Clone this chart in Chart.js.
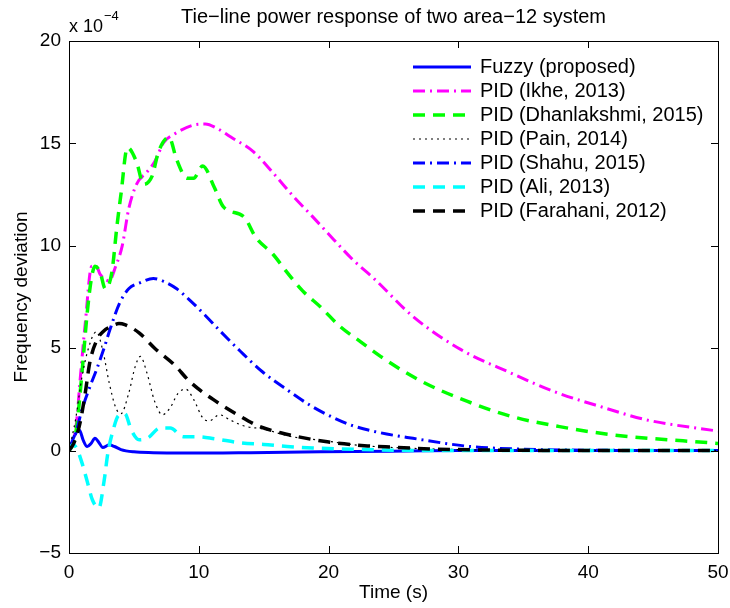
<!DOCTYPE html>
<html lang="en">
<head>
  <meta charset="UTF-8" />
  <title>Tie-line power response</title>
  <script src="https://cdn.jsdelivr.net/npm/chart.js"></script>
  <style>
    body { margin: 0; background: #fff; }
    #wrap { width: 730px; height: 608px; }
  </style>
</head>
<body>
  <div id="wrap"><canvas id="tieChart"></canvas></div>

  <script>
    // values are in units of 1e-4
    const fuzzyT = [0, 0.4, 0.8, 1.1, 1.4, 1.7, 2.0, 2.3, 2.6, 3.1, 3.5, 4.0, 5.0, 6.5, 8.5, 11, 14, 18, 22, 26, 30, 40, 50];
    const fuzzyY = [0, 0.7, 1.0, 0.5, 0.2, 0.35, 0.6, 0.4, 0.15, 0.28, 0.2, 0.05, -0.06, -0.1, -0.12, -0.12, -0.1, -0.07, -0.04, -0.02, 0, 0, 0];

    const ikheT = [0, 0.3, 0.6, 0.85, 1.25, 1.75, 2.1, 2.4, 3.1, 3.6, 4.1, 4.6, 5.2, 6.0, 6.6, 7.3, 8.1, 9.6, 10.5, 11.5, 12.5, 14.2, 15.8, 17.3, 18.8, 20.4, 21.9, 23.5, 26.5, 30.2, 34, 37.6, 41.2, 44.5, 50];
    const ikheY = [0, 0.3, 1.5, 3.4, 6.2, 9.0, 9.0, 8.6, 8.3, 9.0, 10.0, 11.8, 13.0, 13.6, 14.1, 15.05, 15.45, 15.9, 15.95, 15.7, 15.3, 14.6, 13.5, 12.4, 11.4, 10.3, 9.3, 8.4, 6.55, 4.93, 3.8, 2.83, 2.1, 1.5, 0.95];

    const dhanT = [0, 0.3, 0.6, 1.0, 1.4, 1.7, 2.0, 2.4, 2.8, 3.3, 3.7, 4.0, 4.5, 5.2, 5.75, 6.4, 6.9, 7.7, 8.3, 9.1, 9.6, 10.3, 11.2, 11.9, 13.5, 14.4, 15.7, 16.8, 18, 19.4, 20.9, 22.5, 24, 27.1, 30.7, 34.2, 37.8, 41.9, 50];
    const dhanY = [0, 0.3, 1.2, 3.8, 6.7, 8.3, 9.0, 8.7, 7.9, 8.7, 11.0, 12.5, 14.8, 14.1, 13.0, 13.4, 14.6, 15.3, 14.2, 13.3, 13.3, 13.9, 12.85, 11.9, 11.4, 10.4, 9.6, 8.7, 7.8, 7.0, 6.05, 5.3, 4.6, 3.4, 2.4, 1.65, 1.17, 0.77, 0.35];

    const painT = [0, 0.5, 1.0, 1.5, 2.1, 2.6, 3.1, 3.6, 4.0, 4.6, 5.1, 5.5, 6.0, 6.6, 7.2, 7.8, 8.4, 9.0, 9.6, 10.3, 10.8, 11.6, 12.4, 13.5, 15, 17, 19.5, 22, 25, 30, 35, 50];
    const painY = [0, 1.5, 3.6, 5.0, 5.8, 4.9, 3.3, 2.1, 1.8, 2.8, 4.1, 4.6, 3.8, 2.4, 1.75, 2.1, 2.8, 3.0, 2.5, 1.6, 1.45, 1.75, 1.5, 1.2, 1.05, 0.7, 0.5, 0.28, 0.15, 0.05, 0, 0];

    const shahuT = [0, 0.5, 1.0, 1.6, 2.15, 2.7, 3.15, 3.9, 4.6, 5.5, 6.5, 7.5, 8.3, 9.3, 10.5, 11.7, 13.2, 14.9, 16.8, 18.6, 20.4, 21.9, 24, 26.5, 30.9, 35, 40, 50];
    const shahuY = [0, 0.8, 2.0, 3.1, 4.0, 5.0, 5.9, 7.2, 7.9, 8.2, 8.4, 8.2, 7.9, 7.35, 6.6, 5.8, 4.85, 3.85, 2.97, 2.2, 1.6, 1.21, 0.87, 0.6, 0.2, 0.07, 0.02, 0];

    const aliT = [0, 0.3, 0.6, 1.0, 1.4, 1.8, 2.3, 2.7, 3.0, 3.4, 3.8, 4.3, 4.8, 5.4, 6.1, 7.0, 7.8, 8.8, 9.8, 11.2, 13.2, 15, 16.8, 18.8, 20.9, 25, 30, 50];
    const aliY = [0, 0.3, 0.1, -0.6, -1.5, -2.4, -2.8, -1.5, -0.1, 1.0, 1.7, 1.8, 1.0, 0.53, 0.63, 1.1, 1.1, 0.68, 0.68, 0.58, 0.38, 0.3, 0.2, 0.13, 0.08, 0.02, 0, 0];

    const faraT = [0, 0.4, 0.85, 1.25, 1.6, 2.15, 2.7, 3.2, 3.85, 4.3, 5.4, 6.6, 8.1, 9.3, 11.1, 13.0, 14.6, 16.3, 18.1, 19.9, 21.2, 23, 24.8, 28, 32, 36, 50];
    const faraY = [0, 0.4, 1.35, 2.8, 4.3, 5.4, 5.85, 6.05, 6.2, 6.15, 5.75, 5.0, 4.2, 3.37, 2.5, 1.75, 1.2, 0.87, 0.62, 0.43, 0.33, 0.23, 0.17, 0.08, 0.03, 0.01, 0];

    const seriesNames = [
      'Fuzzy (proposed)',
      'PID (Ikhe, 2013)',
      'PID (Dhanlakshmi, 2015)',
      'PID (Pain, 2014)',
      'PID (Shahu, 2015)',
      'PID (Ali, 2013)',
      'PID (Farahani, 2012)'
    ];

    const xTicks = [0, 10, 20, 30, 40, 50];
    const yTicks = [-5, 0, 5, 10, 15, 20];

    const FONT = '"Liberation Sans", Arial, Helvetica, sans-serif';

    const pts = (ts, ys) => ts.map((t, i) => ({ x: t, y: ys[i] }));

    const line = (i, data, color, width, dash) => ({
      label: seriesNames[i],
      data,
      borderColor: color,
      backgroundColor: color,
      borderWidth: width,
      borderDash: dash,
      pointRadius: 0,
      fill: false,
      cubicInterpolationMode: 'monotone',
      order: 10 - i, // later series drawn on top, like the original plot
    });

    const datasets = [
      line(0, pts(fuzzyT, fuzzyY), '#0000ff', 3, []),
      line(1, pts(ikheT, ikheY), '#ff00ff', 3, [12, 5, 2, 5]),
      line(2, pts(dhanT, dhanY), '#00ff00', 3.5, [12, 8]),
      line(3, pts(painT, painY), '#000000', 1.2, [2, 4]),
      line(4, pts(shahuT, shahuY), '#0000ff', 3, [12, 5, 2, 5]),
      line(5, pts(aliT, aliY), '#00ffff', 3.5, [12, 8]),
      line(6, pts(faraT, faraY), '#000000', 3.5, [12, 8]),
    ];

    // frame, inward ticks, title, exponent label and legend
    const decor = {
      id: 'decor',
      afterDraw(chart) {
        const { ctx, chartArea: a } = chart;
        const xs = chart.scales.x, ys = chart.scales.y;
        ctx.save();
        ctx.strokeStyle = '#000';
        ctx.lineWidth = 1;
        ctx.setLineDash([]);
        ctx.strokeRect(Math.round(a.left) + 0.5, Math.round(a.top) + 0.5,
          Math.round(a.right - a.left), Math.round(a.bottom - a.top));
        const tl = 7;
        ctx.beginPath();
        xTicks.forEach(v => {
          const px = Math.round(xs.getPixelForValue(v)) + 0.5;
          ctx.moveTo(px, a.bottom); ctx.lineTo(px, a.bottom - tl);
          ctx.moveTo(px, a.top); ctx.lineTo(px, a.top + tl);
        });
        yTicks.forEach(v => {
          const py = Math.round(ys.getPixelForValue(v)) + 0.5;
          ctx.moveTo(a.left, py); ctx.lineTo(a.left + tl, py);
          ctx.moveTo(a.right, py); ctx.lineTo(a.right - tl, py);
        });
        ctx.stroke();

        // title
        ctx.fillStyle = '#000';
        ctx.textAlign = 'center';
        ctx.textBaseline = 'middle';
        ctx.font = '20px ' + FONT;
        ctx.fillText('Tie\u2212line power response of two area\u221212 system', (a.left + a.right) / 2, 17);

        // exponent
        ctx.textAlign = 'left';
        ctx.textBaseline = 'alphabetic';
        ctx.font = '18px ' + FONT;
        ctx.fillText('x 10', a.left, 32);
        const w = ctx.measureText('x 10').width;
        ctx.font = '13px ' + FONT;
        ctx.fillText('\u22124', a.left + w + 1, 20);

        // legend
        const lx = 413, lw = 58, tx = 480, y0 = 67, dy = 24;
        ctx.font = '20px ' + FONT;
        ctx.textBaseline = 'middle';
        chart.data.datasets.forEach((ds, i) => {
          const y = y0 + i * dy;
          ctx.strokeStyle = ds.borderColor;
          ctx.lineWidth = ds.borderWidth;
          ctx.setLineDash(ds.borderDash);
          ctx.beginPath();
          ctx.moveTo(lx, y); ctx.lineTo(lx + lw, y);
          ctx.stroke();
          ctx.fillStyle = '#000';
          ctx.fillText(ds.label, tx, y);
        });
        ctx.restore();
      }
    };

    Chart.defaults.font.family = FONT;
    Chart.defaults.color = '#000';

    new Chart(document.getElementById('tieChart'), {
      type: 'line',
      data: { datasets },
      options: {
        responsive: true,
        maintainAspectRatio: false,
        animation: false,
        devicePixelRatio: 1,
        layout: { padding: { top: 41, right: 12, left: 0, bottom: 0 } },
        plugins: {
          legend: { display: false },
          tooltip: { enabled: false },
        },
        scales: {
          x: {
            type: 'linear',
            min: 0,
            max: 50,
            afterBuildTicks: s => { s.ticks = xTicks.map(v => ({ value: v })); },
            ticks: { font: { size: 19 }, padding: 8, maxRotation: 0 },
            grid: { display: false, drawTicks: false },
            border: { display: false },
            title: { display: true, text: 'Time (s)', font: { size: 19 }, padding: { top: 0, bottom: 4 } },
            afterFit: s => { s.height = 55; s.paddingLeft = 0; s.paddingRight = 0; },
          },
          y: {
            min: -5,
            max: 20,
            afterBuildTicks: s => { s.ticks = yTicks.map(v => ({ value: v })); },
            ticks: {
              font: { size: 19 },
              padding: 8,
              callback: v => (v < 0 ? '\u2212' + Math.abs(v) : String(v)),
            },
            grid: { display: false, drawTicks: false },
            border: { display: false },
            title: { display: true, text: 'Frequency deviation', font: { size: 19 }, padding: { top: 10, bottom: 0 } },
            afterFit: s => { s.width = 69; s.paddingTop = 0; s.paddingBottom = 0; },
          },
        },
      },
      plugins: [decor],
    });
  </script>
</body>
</html>
